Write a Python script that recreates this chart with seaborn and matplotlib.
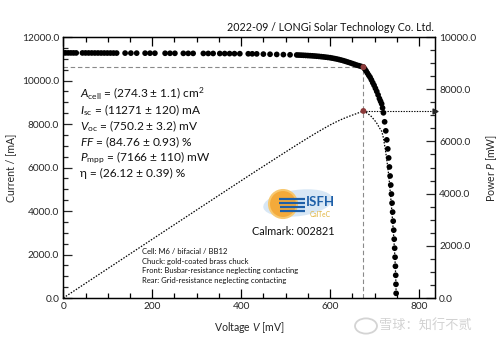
import matplotlib
matplotlib.use("Agg")
import matplotlib.pyplot as plt
from matplotlib.ticker import MultipleLocator, FormatStrFormatter
from matplotlib.patches import Circle, Ellipse
import numpy as np
import pandas as pd
import seaborn as sns

# Measured I-V sweep (voltage in mV, current in mA)
voltage_mv = [0, 5, 11, 17, 23, 29, 43, 50, 57, 64, 71, 78, 85, 92, 99, 106, 113, 120,
              139, 152, 165, 184, 195, 206, 229, 240, 251, 270, 281, 292, 315, 326, 337,
              352, 363, 374, 385, 397, 416, 425, 435, 450, 465, 480, 495, 510, 525,
              530, 535, 540, 545, 550, 555, 560, 565, 570, 575, 580, 585, 590, 595,
              600, 605, 610, 615, 620, 625, 630, 635, 640, 645, 650, 655, 660, 665, 670, 675,
              678, 681, 684, 687, 690, 693, 696, 699, 702, 705, 708, 711, 713.5,
              716, 718, 720, 722.7, 725.3, 727.6, 729.8, 731.8, 733.5, 735, 736.5, 738, 739.4,
              740.7, 742, 743.2, 744.3, 745.3, 746.2, 747, 747.7, 748.2, 748.6]
current_ma = [11271, 11271, 11270, 11270, 11269, 11269, 11268, 11268, 11267, 11267, 11266, 11266,
              11265, 11265, 11264, 11264, 11263, 11262,
              11261, 11260, 11259, 11258, 11257, 11256, 11254, 11253, 11252, 11250, 11249, 11248,
              11246, 11245, 11244, 11242, 11240, 11238, 11236, 11234, 11230, 11228, 11225,
              11215, 11208, 11200, 11192, 11183, 11175,
              11170, 11165, 11160, 11154, 11148, 11142, 11135, 11127, 11118, 11109, 11098,
              11087, 11075, 11062, 11049, 11030, 11010, 10990, 10965, 10940, 10912, 10880,
              10848, 10815, 10780, 10745, 10710, 10680, 10650, 10617,
              10530, 10440, 10340, 10240, 10150, 10030, 9900, 9780, 9640, 9500, 9340, 9170, 9050,
              8931, 8740, 8516, 8101, 7686, 7271, 6856, 6441, 6026, 5611, 5196, 4781, 4366,
              3951, 3536, 3121, 2706, 2291, 1876, 1461, 1046, 631, 216]

# Maximum power point
v_mpp = 675
i_mpp = 10617
p_mpp = 7166

title_text = "2022-09 / LONGi Solar Technology Co. Ltd."
param_lines = [r"$A_\mathregular{cell}$ = (274.3 ± 1.1) cm$^\mathregular{2}$",
               r"$I_\mathregular{sc}$ = (11271 ± 120) mA",
               r"$V_\mathregular{oc}$ = (750.2 ± 3.2) mV",
               r"$FF$ = (84.76 ± 0.93) %",
               r"$P_\mathregular{mpp}$ = (7166 ± 110) mW",
               r"η = (26.12 ± 0.39) %"]
info_lines = ["Cell: M6 / bifacial / BB12",
              "Chuck: gold-coated brass chuck",
              "Front: Busbar-resistance neglecting contacting",
              "Rear: Grid-resistance neglecting contacting"]
calmark_text = "Calmark: 002821"
watermark_text = "雪球：知行不贰"

df = pd.DataFrame({"V": voltage_mv, "I": current_ma})
df["P"] = df["V"] * df["I"] / 1000.0

sns.set_theme(style="ticks")
plt.rcParams["font.family"] = ["Lato", "DejaVu Sans"]
plt.rcParams["mathtext.fontset"] = "custom"
plt.rcParams["mathtext.rm"] = "Lato"
plt.rcParams["mathtext.it"] = "Lato:italic"
plt.rcParams["mathtext.bf"] = "Lato:bold"

fig = plt.figure(figsize=(5.0, 3.46), dpi=100)
ax = fig.add_axes([0.1266, 0.1387, 0.7434, 0.7543])
ax2 = ax.twinx()

XMAX = 836
ax.set_xlim(0, XMAX)
ax.set_ylim(0, 12000)
ax2.set_ylim(0, 10000)

# guide lines through the maximum power point
ax.plot([0, v_mpp], [i_mpp, i_mpp], ls=(0, (4, 2.5)), color="#8a8a8a", lw=0.8, zorder=1)
ax.plot([v_mpp, v_mpp], [0, i_mpp], ls=(0, (4, 2.5)), color="#8a8a8a", lw=0.8, zorder=1)
ax2.plot([v_mpp, XMAX], [p_mpp, p_mpp], ls=(0, (1.2, 1.2)), color="black", lw=0.8, zorder=1)

# I-V points
sns.scatterplot(data=df, x="V", y="I", ax=ax, color="black", s=17, edgecolor="none",
                legend=False, zorder=3)
ax.scatter([v_mpp], [i_mpp], s=18, color="#8b3a3a", zorder=4, edgecolor="none")

# P-V curve
sns.lineplot(data=df, x="V", y="P", ax=ax2, color="black", lw=0.9, ls=(0, (1.2, 1.2)),
             sort=False, estimator=None, zorder=2)
ax2.scatter([v_mpp], [p_mpp], s=18, color="#8b3a3a", zorder=4, edgecolor="none")
ax2.scatter([XMAX], [p_mpp], s=12, marker=">", color="#222222", zorder=5, clip_on=False)

# axes styling
for a in (ax, ax2):
    for s in a.spines.values():
        s.set_linewidth(0.9)
        s.set_color("black")

ax.xaxis.set_major_locator(MultipleLocator(200))
ax.xaxis.set_minor_locator(MultipleLocator(50))
ax.yaxis.set_major_locator(MultipleLocator(2000))
ax.yaxis.set_minor_locator(MultipleLocator(500))
ax.yaxis.set_major_formatter(FormatStrFormatter("%.1f"))
ax2.yaxis.set_major_locator(MultipleLocator(2000))
ax2.yaxis.set_minor_locator(MultipleLocator(500))
ax2.yaxis.set_major_formatter(FormatStrFormatter("%.1f"))

ax.tick_params(axis="x", which="both", direction="in", top=True, bottom=True, labelsize=7.3,
               pad=3, width=0.9, color="black")
ax.tick_params(axis="x", which="major", length=6.5)
ax.tick_params(axis="x", which="minor", length=3.5)
ax.tick_params(axis="y", which="both", direction="in", left=True, right=False, labelsize=7.3,
               pad=3, width=0.9)
ax.tick_params(axis="y", which="major", length=6.5)
ax.tick_params(axis="y", which="minor", length=3.5)
ax2.tick_params(axis="y", which="both", direction="in", right=True, left=False, labelsize=7.3,
                pad=3, width=0.9)
ax2.tick_params(axis="y", which="major", length=6.5)
ax2.tick_params(axis="y", which="minor", length=3.5)

ax.set_xlabel(r"Voltage $V$ [mV]", fontsize=7.6, labelpad=6)
ax.set_ylabel("Current / [mA]", fontsize=7.6, labelpad=4)
ax2.set_ylabel(r"Power $P$ [mW]", fontsize=7.6, labelpad=6)

# header
fig.text(0.868, 0.905, title_text, ha="right", va="bottom", fontsize=7.7, color="#111111")

# measurement parameters
ys = [93, 110, 126, 142, 158, 173]
for txt, py in zip(param_lines, ys):
    ax.text(0.045, (298 - py) / 261, txt, transform=ax.transAxes, fontsize=8.6,
            va="center", ha="left", color="#111111")

for k, txt in enumerate(info_lines):
    py = 251.5 + k * 9.6
    ax.text(0.212, (298 - py) / 261, txt, transform=ax.transAxes, fontsize=5.5,
            va="center", ha="left", color="#111111")

ax.text(0.508, (298 - 231) / 261, calmark_text, transform=ax.transAxes, fontsize=7.8,
        va="center", ha="left", color="#111111")

# institute logo
def axf(px, py):
    return ((px - 63.3) / (435 - 63.3), (298 - py) / 261)

sw = Ellipse(axf(298, 203), 0.19, 0.10, angle=12, transform=ax.transAxes,
             facecolor="#cfe2f3", edgecolor="none", alpha=0.8, zorder=2)
ax.add_patch(sw)
cx, cy = axf(283, 204)
sun = Ellipse((cx, cy), 28 / 371.7, 28 / 261, transform=ax.transAxes,
              facecolor="#f4aa3a", edgecolor="#f7c870", lw=1.5, zorder=3)
ax.add_patch(sun)
for k, py in enumerate([199, 203, 207, 211]):
    x0, y0 = axf(279 + k * 0.5, py)
    x1, _ = axf(305, py)
    ax.plot([x0, x1], [y0, y0], transform=ax.transAxes, color="#1d5fa8", lw=1.6,
            solid_capstyle="butt", zorder=4)
ax.text(*axf(306, 202), "ISFH", transform=ax.transAxes, fontsize=9.5, fontweight="bold",
        color="#1d5fa8", va="center", ha="left", zorder=5)
ax.text(*axf(310, 214), "CalTeC", transform=ax.transAxes, fontsize=4.8,
        color="#e0b33a", va="center", ha="left", zorder=5)

# watermark
wx, wy = 366 / 500, 1 - 326 / 346
fig.patches.append(Circle((wx, wy), 0.022, transform=fig.transFigure, facecolor="none",
                          edgecolor="#d4d4d4", lw=1.3))
fig.text(0.757, wy, watermark_text, fontsize=9.5, color="#d2d2d2", va="center", ha="left",
         family=["Noto Sans CJK SC", "DejaVu Sans"])

fig.savefig("out.png", dpi=100)
